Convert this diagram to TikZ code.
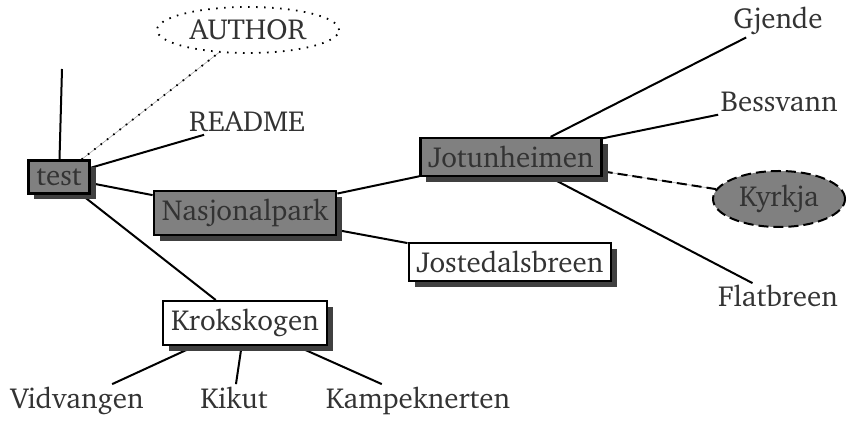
\documentclass[tikz,border=0pt]{standalone}
\usepackage[T1]{fontenc}
\usepackage{charter}
\usetikzlibrary{shapes.geometric,shadows,backgrounds}

\definecolor{txtgray}{gray}{0.2}
\definecolor{boxgray}{gray}{0.5}
\definecolor{shadowgray}{gray}{0.25}

\tikzset{
  dirbox/.style={draw=black, line width=1.2pt, fill=boxgray, text=txtgray, inner sep=4pt,
    drop shadow={shadow xshift=3pt, shadow yshift=-3pt, fill=shadowgray, opacity=1}},
  filebox/.style={dirbox, fill=white},
  leaf/.style={text=txtgray, inner sep=1pt, anchor=base},
  branch/.style={line width=1pt},
  longdash/.style={dash pattern=on 5pt off 2.5pt},
  sparsedots/.style={dash pattern=on 0.8pt off 3.2pt},
  dashbranch/.style={branch, longdash, preaction={draw, solid, gray!70, line width=0.3pt}},
  dotbranch/.style={line width=0.9pt, sparsedots, preaction={draw, solid, gray!70, line width=0.3pt}},
}

\begin{document}
\begin{tikzpicture}[x=0.5pt, y=-0.5pt, font=\fontsize{14.5}{17}\selectfont]
		\useasboundingbox (0,0) rectangle (849,421);

		% the root and its files
		\node (test) at (59,177) [dirbox] {test};
		\coordinate (empty) at (62,69);
		\node (author) at (248,30) [ellipse, draw, sparsedots, line width=0.9pt, text=txtgray,
			minimum width=91pt, minimum height=23pt, inner sep=0pt] {AUTHOR};
		\node (readme) at (247,132) [leaf] {README};

		% the directories
		\node (nasjonalpark) at (245,213) [dirbox] {Nasjonalpark};
		\node (jotunheimen) at (511,157) [dirbox] {Jotunheimen};
		\node (jostedalsbreen) at (510,262) [filebox] {Jostedalsbreen};
		\node (krokskogen) at (245,323) [filebox] {Krokskogen};

		% the leaves of Jotunheimen
		\node (gjende) at (778,29) [leaf] {Gjende};
		\node (bessvann) at (779,112) [leaf] {Bessvann};
		\node (kyrkja) at (779,199) [ellipse, draw, longdash, line width=1pt, fill=boxgray,
			text=txtgray, minimum width=66pt, minimum height=28pt, inner sep=0pt] {Kyrkja};
		\node (flatbreen) at (778,307) [leaf] {Flatbreen};

		% the leaves of Krokskogen
		\node (vidvangen) at (77,408) [leaf] {Vidvangen};
		\node (kikut) at (234,408) [leaf] {Kikut};
		\node (kampeknerten) at (418,408) [leaf] {Kampeknerten};

		% draw the branches behind the boxes
		\begin{scope}[on background layer]
			\draw [branch] (test) -- (empty);
			\draw [dotbranch] (test) -- (author);
			\draw [branch] (test) -- (readme);
			\draw [branch] (test) -- (nasjonalpark);
			\draw [branch] (test) -- (krokskogen);

			\draw [branch] (nasjonalpark) -- (jotunheimen);
			\draw [branch] (nasjonalpark) -- (jostedalsbreen);

			\draw [branch] (jotunheimen) -- (gjende);
			\draw [branch] (jotunheimen) -- (bessvann);
			\draw [dashbranch] (jotunheimen) -- (kyrkja);
			\draw [branch] (jotunheimen) -- (flatbreen);

			\draw [branch] (krokskogen) -- (vidvangen);
			\draw [branch] (krokskogen) -- (kikut);
			\draw [branch] (krokskogen) -- (kampeknerten);
		\end{scope}
		\end{tikzpicture}
\end{document}
